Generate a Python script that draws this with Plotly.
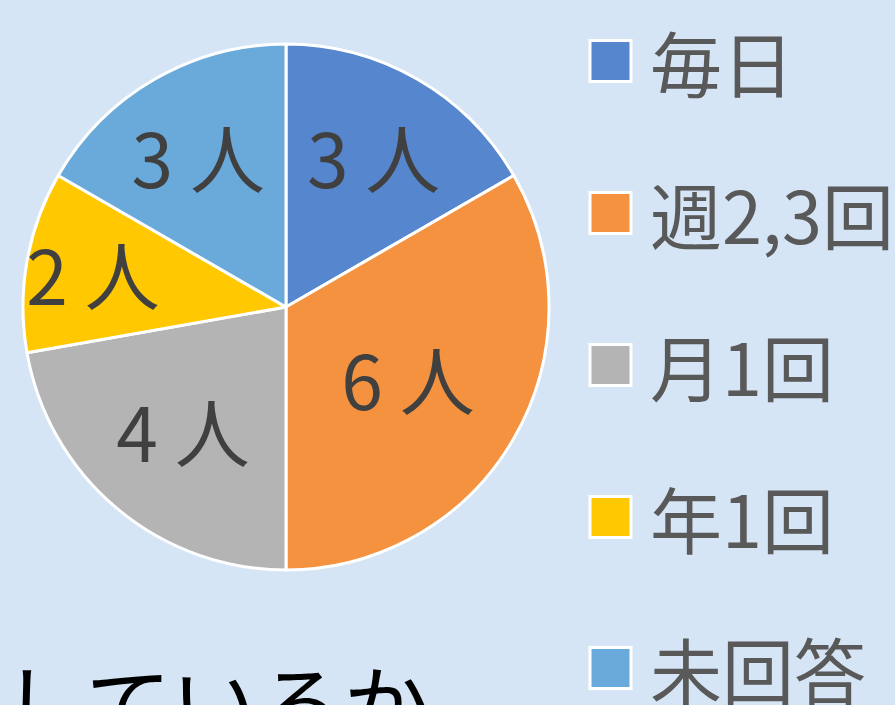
import plotly.graph_objects as go

categories = ["毎日", "週2,3回", "月1回", "年1回", "未回答"]
counts = [3, 6, 4, 2, 3]
label_texts = [f"{v} 人" for v in counts]
colors = ["#5687CE", "#F4923F", "#B4B4B4", "#FFC800", "#6AAADA"]

W, H = 895, 705
FONT = "Noto Sans CJK JP"
BG = "#D5E5F5"
LABEL_SIZE = 75

fig = go.Figure()
fig.add_trace(go.Pie(
    labels=categories,
    values=counts,
    text=label_texts,
    textinfo="text",
    textposition="inside",
    insidetextorientation="horizontal",
    sort=False,
    direction="clockwise",
    rotation=0,
    marker=dict(colors=colors, line=dict(color="white", width=3)),
    textfont=dict(family=FONT, size=LABEL_SIZE, color="#404040"),
    domain=dict(x=[23 / W, 549 / W], y=[(H - 570) / H, (H - 44) / H]),
    showlegend=False,
    hoverinfo="label+value",
))

# custom legend (large squares + large text)
shapes = []
annotations = []
legend_y = [61, 213, 365, 517, 668]
for cat, col, yc in zip(categories, colors, legend_y):
    shapes.append(dict(type="rect", xref="paper", yref="paper",
                       x0=590 / W, x1=631 / W,
                       y0=(H - yc - 20.5) / H, y1=(H - yc + 20.5) / H,
                       fillcolor=col, line=dict(color="white", width=3)))
    annotations.append(dict(text=cat, xref="paper", yref="paper",
                            x=648 / W, y=(H - yc + 1) / H, xanchor="left", yanchor="middle",
                            showarrow=False,
                            font=dict(family=FONT, size=72, color="#595959")))

annotations.append(dict(text="しているか", xref="paper", yref="paper",
                        x=0 / W, y=(H - 636) / H, xanchor="left", yanchor="top",
                        showarrow=False,
                        font=dict(family=FONT, size=86, color="#000000")))

fig.update_layout(
    width=W, height=H,
    margin=dict(l=0, r=0, t=0, b=0),
    paper_bgcolor=BG,
    plot_bgcolor=BG,
    uniformtext=dict(minsize=LABEL_SIZE, mode="show"),
    shapes=shapes,
    annotations=annotations,
)

fig.write_html(
    "out.html",
    config={"displayModeBar": False},
    post_script="document.body.style.margin='0';document.body.style.overflow='hidden';"
                "document.body.style.background='" + BG + "';",
)
